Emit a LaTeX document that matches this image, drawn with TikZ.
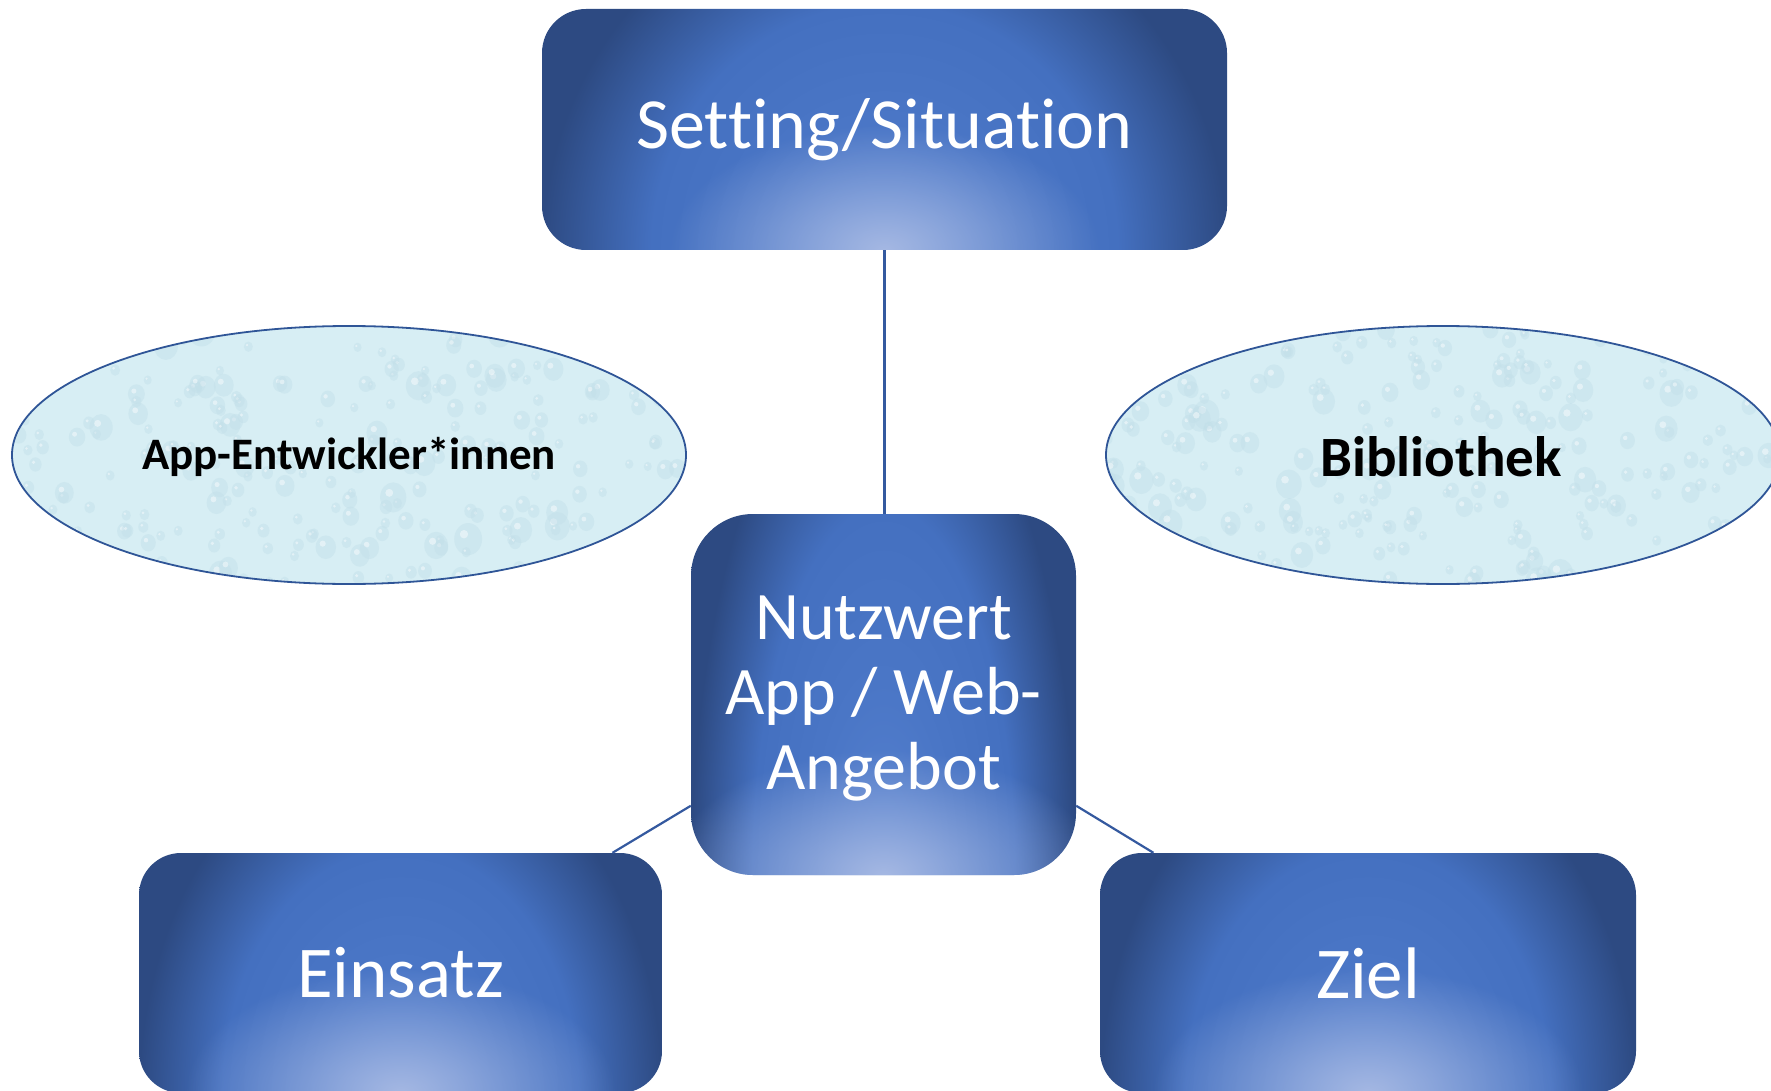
\documentclass[tikz,border=0pt]{standalone}
\usepackage{fontspec}
\setmainfont{Carlito}[Ligatures={NoCommon}]
\usetikzlibrary{calc,shapes.geometric,fadings}
\definecolor{edgeblue}{HTML}{2D4A82}
\definecolor{midblue}{HTML}{4A76C6}
\definecolor{midblueB}{HTML}{4470C0}
\definecolor{centblue}{HTML}{5681CF}
\definecolor{glowA}{HTML}{A9BBE4}
\definecolor{linecol}{HTML}{34599F}
\definecolor{ellfill}{HTML}{D7EEF4}
\definecolor{dropcol}{HTML}{C2DFE9}
\definecolor{ellline}{HTML}{2F5597}
\pgfdeclareradialshading{boxbase}{\pgfpointorigin}{color(0bp)=(centblue); color(9bp)=(midblue); color(17bp)=(midblueB); color(25bp)=(edgeblue); color(50bp)=(edgeblue)}
\tikzfading[name=glowfade, inner color=transparent!5, outer color=transparent!100]
\tikzset{
  bluebox/.style={rectangle, rounded corners=#1, inner sep=0pt, text=white, align=center,
    path picture={
      \shade[shading=boxbase]
        ($(path picture bounding box.south west)!-1.5!(path picture bounding box.north west)$)
        rectangle
        ($(path picture bounding box.south east)!1.5!(path picture bounding box.north east)$);
      \fill[glowA, path fading=glowfade] (path picture bounding box.south) ellipse [x radius=215pt, y radius=125pt];
    }},
  bluebox/.default=44pt,
  cloud ell/.style={ellipse, draw=ellline, line width=1.8pt, fill=ellfill, inner sep=0pt,
    path picture={
      \pgfmathsetseed{#1}
      \foreach \k in {1,...,260}{
        \pgfmathsetmacro{\px}{rnd}
        \pgfmathsetmacro{\py}{rnd}
        \pgfmathsetmacro{\pr}{4+11*rnd*rnd}
        \coordinate (dp) at ($(path picture bounding box.south west)!\px!(path picture bounding box.south east)$);
        \coordinate (dq) at ($(path picture bounding box.south west)!\py!(path picture bounding box.north west)$);
        \fill[dropcol, opacity=0.45] (dp |- dq) ellipse [x radius=\pr pt, y radius=1.15*\pr pt];
        \fill[white, opacity=0.45] ($(dp |- dq)+(-0.3*\pr,-0.35*\pr)$) circle [radius=0.3*\pr pt];
      }
    }},
  conn/.style={draw=linecol, line width=2.2pt},
}
\begin{document}
\begin{tikzpicture}[x=1pt,y=-1pt]
\useasboundingbox (0,0) rectangle (1771,1091);
\clip (0,0) rectangle (1771,1091);
\fill[white] (0,0) rectangle (1771,1091);

% ellipses
\node[cloud ell=11, minimum width=674pt, minimum height=258pt] (dev) at (349,455) {};
\node[font=\bfseries\fontsize{45}{54}\selectfont] (devt) at (349,457) {App-Entwickler*innen};
\node[cloud ell=23, minimum width=674pt, minimum height=258pt] (bib) at (1443,455) {};
\node[font=\bfseries\fontsize{57}{66}\selectfont] (bibt) at (1441,457) {Bibliothek};

% boxes
\node[bluebox, minimum width=685pt, minimum height=241pt, font=\fontsize{72}{80}\selectfont] (top) at (884.5,129.5) {Setting/Situation};
\node[bluebox=62pt, minimum width=385pt, minimum height=361pt] (nutz) at (883.5,694.5) {};
\node[text=white, align=center, font=\fontsize{68}{75}\selectfont] (nutzt) at (883.5,699) {Nutzwert\\App / Web-\\Angebot};
\node[bluebox=42pt, minimum width=523pt, minimum height=240pt, font=\fontsize{73}{80}\selectfont] (einsatz) at (400.5,973) {Einsatz};
\node[bluebox=42pt, minimum width=536pt, minimum height=240pt, font=\fontsize{73}{80}\selectfont] (ziel) at (1368,973) {Ziel};

% connectors
\draw[conn] (top.south) -- (top.south |- nutz.north);
\draw[conn] (nutz.210) -- ($(einsatz.north west)!0.905!(einsatz.north east)$);
\draw[conn] (nutz.330) -- ($(ziel.north west)!0.1!(ziel.north east)$);
\end{tikzpicture}
\end{document}
